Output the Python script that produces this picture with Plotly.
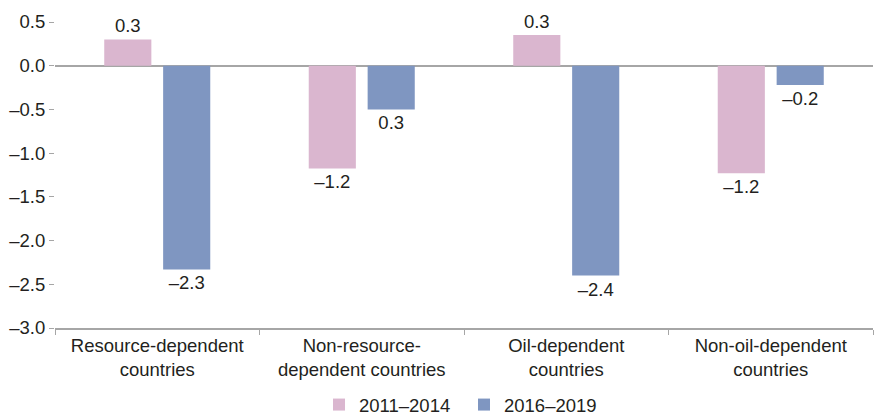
import plotly.graph_objects as go

categories = ["Resource-dependent<br>countries", "Non-resource-<br>dependent countries",
              "Oil-dependent<br>countries", "Non-oil-dependent<br>countries"]
series_names = ["2011–2014", "2016–2019"]
values_2011_2014 = [0.30, -1.175, 0.35, -1.23]
values_2016_2019 = [-2.33, -0.50, -2.40, -0.22]
labels_2011_2014 = ["0.3", "–1.2", "0.3", "–1.2"]
labels_2016_2019 = ["–2.3", "0.3", "–2.4", "–0.2"]
y_tick_vals = [0.5, 0.0, -0.5, -1.0, -1.5, -2.0, -2.5, -3.0]
y_tick_text = ["0.5", "0.0", "–0.5", "–1.0", "–1.5", "–2.0", "–2.5", "–3.0"]

FONT = "Liberation Sans, Arial, sans-serif"
FS = 18.5
PINK = "#dab6cf"
BLUE = "#7f96c1"
TXT = "#231f20"

fig = go.Figure()
for name, vals, labs, col in [(series_names[0], values_2011_2014, labels_2011_2014, PINK),
                              (series_names[1], values_2016_2019, labels_2016_2019, BLUE)]:
    fig.add_trace(go.Bar(
        x=categories, y=vals, name=name, marker=dict(color=col, line=dict(width=0)),
        text=labs, textposition="outside", cliponaxis=False,
        textfont=dict(family=FONT, size=FS, color=TXT),
        hoverinfo="skip",
    ))

fig.update_layout(
    width=874, height=418,
    margin=dict(l=55, r=1, t=22, b=90, autoexpand=False),
    plot_bgcolor="white", paper_bgcolor="white",
    barmode="group", bargap=0.424, bargroupgap=0.2,
    font=dict(family=FONT, size=FS, color=TXT),
    showlegend=True,
    legend=dict(orientation="h", x=0.5, xanchor="center", yref="container", y=0.031, yanchor="middle",
                font=dict(family=FONT, size=FS, color=TXT), traceorder="normal",
                entrywidth=100, entrywidthmode="pixels"),
)
fig.update_xaxes(
    showline=True, linecolor="#a6a6a6", linewidth=2,
    ticks="outside", tickson="boundaries", ticklen=5, tickcolor="#a6a6a6",
    showgrid=False, tickfont=dict(family=FONT, size=FS, color=TXT),
)
fig.update_yaxes(
    range=[-3.0, 0.5], tickvals=y_tick_vals, ticktext=y_tick_text,
    showgrid=False, zeroline=True, zerolinecolor="#a6a6a6", zerolinewidth=2,
    showline=False, ticks="outside", ticklen=5, tickcolor="#a6a6a6",
    tickfont=dict(family=FONT, size=FS, color=TXT), ticklabelstandoff=0,
)
fig.write_html("out.html", config={"displayModeBar": False},
               post_script="document.body.style.margin='0';")
